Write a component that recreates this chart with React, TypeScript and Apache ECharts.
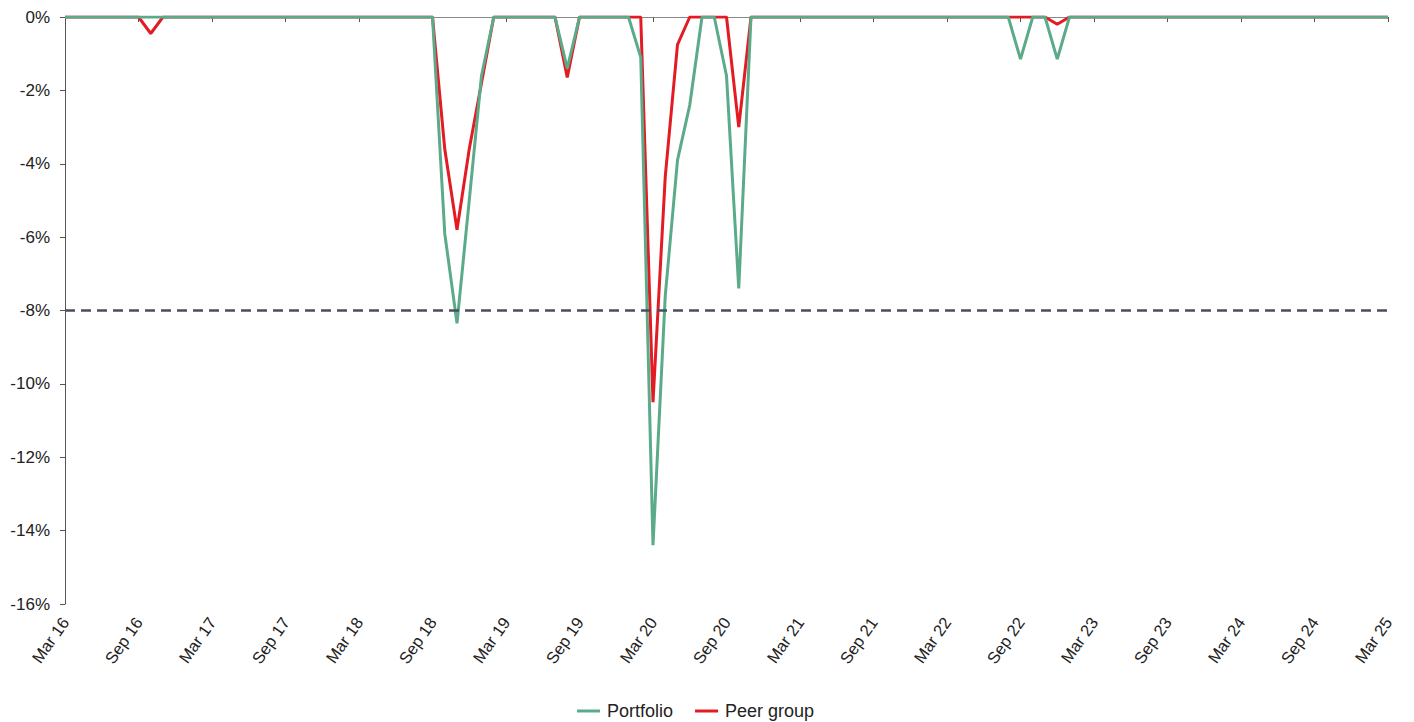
import React, { useEffect, useRef } from "react";
import * as echarts from "echarts";

const MONTHS = ["Jan", "Feb", "Mar", "Apr", "May", "Jun", "Jul", "Aug", "Sep", "Oct", "Nov", "Dec"];
// Monthly categories Mar 16 .. Mar 25
const categories: string[] = [];
for (let y = 16; y <= 25; y++) {
  for (let m = 0; m < 12; m++) {
    if (y === 16 && m < 2) continue;
    if (y === 25 && m > 2) continue;
    categories.push(`${MONTHS[m]} ${y}`);
  }
}

const portfolio: number[] = [
  0, 0, 0, 0, 0, 0, 0, 0, 0, 0, // 0-9
  0, 0, 0, 0, 0, 0, 0, 0, 0, 0, // 10-19
  0, 0, 0, 0, 0, 0, 0, 0, 0, 0, // 20-29
  0, -5.9, -8.35, -5.0, -1.6, 0, 0, 0, 0, 0, // 30-39
  0, -1.4, 0, 0, 0, 0, 0, -1.1, -14.4, -7.6, // 40-49
  -3.9, -2.4, 0, 0, -1.6, -7.4, 0, 0, 0, 0, // 50-59
  0, 0, 0, 0, 0, 0, 0, 0, 0, 0, // 60-69
  0, 0, 0, 0, 0, 0, 0, 0, -1.15, 0, // 70-79
  0, -1.15, 0, 0, 0, 0, 0, 0, 0, 0, // 80-89
  0, 0, 0, 0, 0, 0, 0, 0, 0, 0, // 90-99
  0, 0, 0, 0, 0, 0, 0, 0, 0, // 100-108
];

const peerGroup: number[] = [
  0, 0, 0, 0, 0, 0, 0, -0.45, 0, 0, // 0-9
  0, 0, 0, 0, 0, 0, 0, 0, 0, 0, // 10-19
  0, 0, 0, 0, 0, 0, 0, 0, 0, 0, // 20-29
  0, -3.6, -5.8, -3.6, -1.8, 0, 0, 0, 0, 0, // 30-39
  0, -1.65, 0, 0, 0, 0, 0, 0, -10.5, -4.35, // 40-49
  -0.75, 0, 0, 0, 0, -3.0, 0, 0, 0, 0, // 50-59
  0, 0, 0, 0, 0, 0, 0, 0, 0, 0, // 60-69
  0, 0, 0, 0, 0, 0, 0, 0, 0, 0, // 70-79
  0, -0.2, 0, 0, 0, 0, 0, 0, 0, 0, // 80-89
  0, 0, 0, 0, 0, 0, 0, 0, 0, 0, // 90-99
  0, 0, 0, 0, 0, 0, 0, 0, 0, // 100-108
];

const threshold = -8;

const GREEN = "#5BAA8A";
const RED = "#E31B23";
const FONT = "Liberation Sans, Arial, sans-serif";

export default function App() {
  const ref = useRef<HTMLDivElement>(null);
  useEffect(() => {
    if (!ref.current) return;
    const chart = echarts.init(ref.current, undefined, { renderer: "svg" });
    chart.setOption({
      animation: false,
      textStyle: { fontFamily: FONT },
      grid: { left: 65, right: 26, top: 17, bottom: 118, containLabel: false },
      legend: {
        top: 697,
        left: 572,
        data: ["Portfolio", "Peer group"],
        icon: "rect",
        itemWidth: 23,
        itemHeight: 3,
        itemGap: 22,
        textStyle: { fontSize: 18, color: "#222", fontFamily: FONT, padding: [0, 0, 0, 2] },
      },
      xAxis: [
        {
          type: "category",
          data: categories,
          boundaryGap: false,
          position: "bottom",
          axisLine: { show: false, onZero: false },
          axisTick: { show: false },
          axisLabel: {
            interval: 5,
            rotate: 55,
            fontSize: 16.5,
            color: "#222",
            margin: 15,
            fontFamily: FONT,
          },
        },
        {
          type: "category",
          data: categories,
          boundaryGap: false,
          position: "top",
          axisLine: { show: true, onZero: false, lineStyle: { color: "#888", width: 1 } },
          axisTick: { show: true, inside: true, interval: 5, length: 5, lineStyle: { color: "#555" } },
          axisLabel: { show: false },
        },
      ],
      yAxis: {
        type: "value",
        min: -16,
        max: 0,
        interval: 2,
        axisLine: { show: true, lineStyle: { color: "#555", width: 1 } },
        axisTick: { show: true, length: 5, lineStyle: { color: "#555" } },
        splitLine: { show: false },
        axisLabel: {
          formatter: "{value}%",
          fontSize: 17,
          color: "#222",
          margin: 15,
          fontFamily: FONT,
        },
      },
      series: [
        {
          name: "Peer group",
          type: "line",
          data: peerGroup,
          showSymbol: false,
          symbol: "none",
          z: 2,
          lineStyle: { color: RED, width: 3 },
          itemStyle: { color: RED },
          markLine: {
            silent: true,
            symbol: "none",
            label: { show: false },
            lineStyle: { color: "#4A4F5E", width: 2.5, type: [10, 6] },
            data: [{ yAxis: threshold }],
          },
        },
        {
          name: "Portfolio",
          type: "line",
          data: portfolio,
          showSymbol: false,
          symbol: "none",
          z: 3,
          lineStyle: { color: GREEN, width: 3 },
          itemStyle: { color: GREEN },
        },
      ],
    });
    return () => chart.dispose();
  }, []);
  return (
    <div
      ref={ref}
      style={{ position: "absolute", left: 0, top: 0, width: 1414, height: 722 }}
    />
  );
}
